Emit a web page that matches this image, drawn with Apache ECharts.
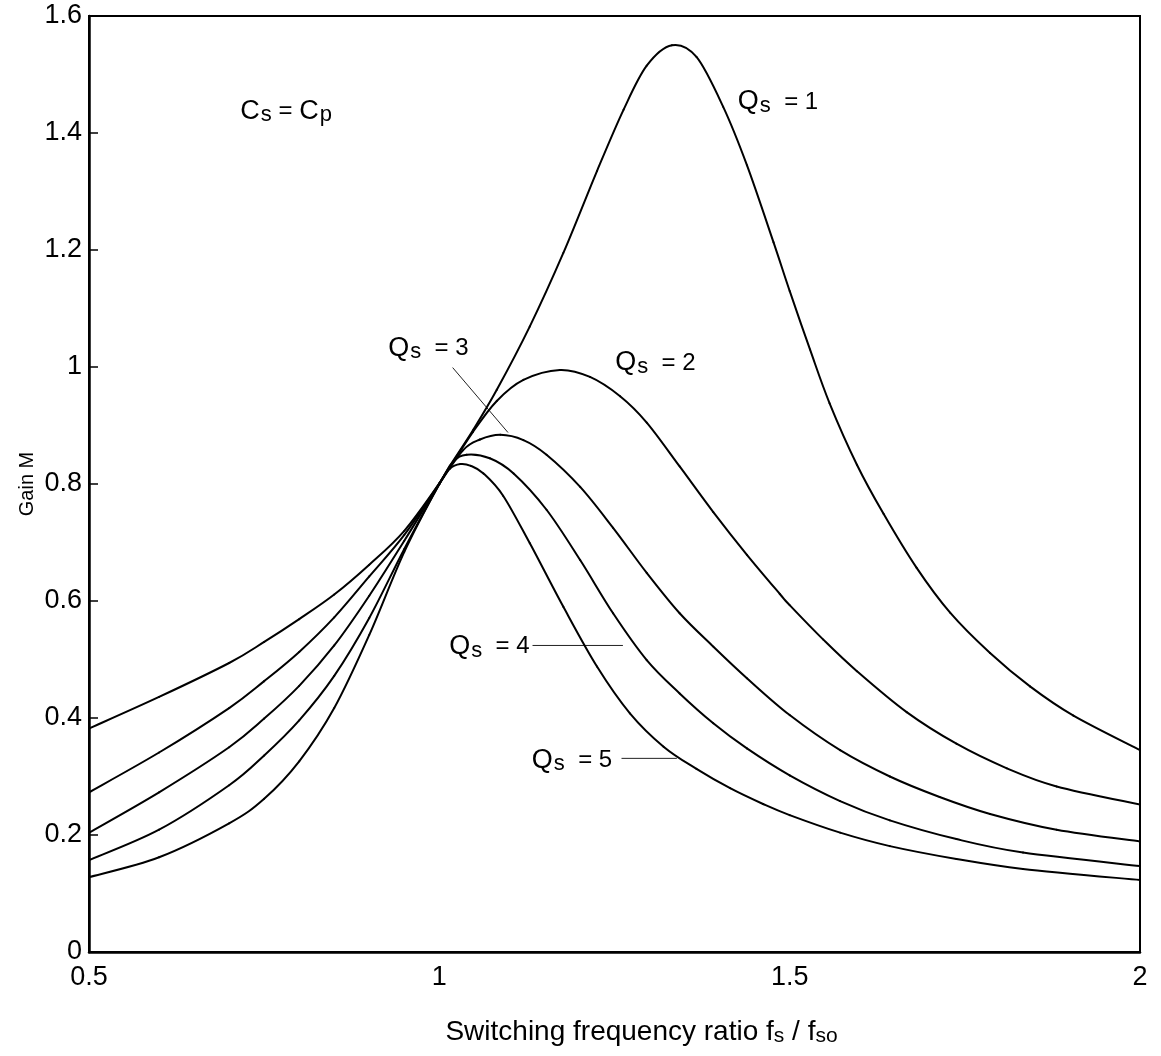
<!DOCTYPE html>
<html>
<head>
<meta charset="utf-8">
<script src="https://cdn.jsdelivr.net/npm/echarts@6/dist/echarts.min.js"></script>
<style>
html,body{margin:0;padding:0;background:#fff;}
#chart{width:1161px;height:1056px;}
</style>
</head>
<body>
<div id="chart"></div>
<script>
// Gain M vs switching frequency ratio, pairs [fs/fso, M]
const q1 = [[0.5,0.382],[0.6,0.436],[0.7,0.494],[0.75,0.530],[0.8,0.569],[0.85,0.611],[0.9,0.662],[0.95,0.720],[1.0,0.801],[1.015,0.831],[1.048,0.892],[1.082,0.961],[1.129,1.069],[1.177,1.195],[1.225,1.335],[1.263,1.440],[1.296,1.515],[1.332,1.550],[1.367,1.530],[1.405,1.445],[1.439,1.345],[1.477,1.213],[1.5,1.130],[1.529,1.030],[1.557,0.938],[1.596,0.833],[1.634,0.749],[1.681,0.657],[1.729,0.580],[1.786,0.511],[1.843,0.454],[1.905,0.404],[2.0,0.345]];
const q2 = [[0.5,0.273],[0.6,0.341],[0.7,0.417],[0.75,0.463],[0.8,0.513],[0.85,0.572],[0.9,0.642],[0.95,0.713],[1.0,0.801],[1.048,0.889],[1.082,0.942],[1.120,0.978],[1.172,0.995],[1.215,0.983],[1.258,0.950],[1.296,0.905],[1.343,0.830],[1.391,0.752],[1.439,0.679],[1.486,0.612],[1.5,0.593],[1.548,0.534],[1.596,0.480],[1.667,0.410],[1.738,0.356],[1.810,0.314],[1.881,0.283],[2.0,0.252]];
const q3 = [[0.5,0.204],[0.6,0.273],[0.7,0.350],[0.75,0.399],[0.8,0.455],[0.85,0.524],[0.9,0.609],[0.95,0.703],[1.0,0.800],[1.034,0.858],[1.058,0.876],[1.087,0.884],[1.120,0.875],[1.153,0.850],[1.201,0.795],[1.248,0.725],[1.296,0.648],[1.343,0.579],[1.391,0.522],[1.439,0.468],[1.5,0.405],[1.572,0.345],[1.643,0.300],[1.714,0.265],[1.786,0.236],[1.881,0.209],[2.0,0.189]];
const q4 = [[0.5,0.157],[0.6,0.209],[0.7,0.285],[0.75,0.336],[0.8,0.396],[0.85,0.472],[0.9,0.571],[0.95,0.689],[1.0,0.800],[1.020,0.838],[1.039,0.850],[1.072,0.844],[1.106,0.818],[1.153,0.756],[1.201,0.670],[1.248,0.579],[1.296,0.499],[1.343,0.442],[1.391,0.391],[1.439,0.348],[1.5,0.302],[1.572,0.258],[1.643,0.225],[1.738,0.193],[1.833,0.170],[2.0,0.147]];
const q5 = [[0.5,0.128],[0.6,0.162],[0.7,0.220],[0.75,0.262],[0.8,0.326],[0.85,0.417],[0.9,0.542],[0.95,0.684],[1.0,0.800],[1.015,0.826],[1.030,0.834],[1.045,0.831],[1.063,0.818],[1.091,0.780],[1.129,0.699],[1.177,0.590],[1.225,0.488],[1.272,0.408],[1.320,0.351],[1.367,0.313],[1.415,0.280],[1.462,0.253],[1.5,0.234],[1.572,0.204],[1.643,0.181],[1.738,0.159],[1.833,0.142],[2.0,0.123]];

const seriesNames = ['Qs = 1','Qs = 2','Qs = 3','Qs = 4','Qs = 5'];
const xTicks = [0.5, 1, 1.5, 2];
const yTicks = [0, 0.2, 0.4, 0.6, 0.8, 1, 1.2, 1.4, 1.6];

// annotation anchors (left edge of text, in data units)
const labelQ = ['1','2','3','4','5'];
const labelPos = [[1.426,1.453],[1.251,1.007],[0.927,1.032],[1.014,0.522],[1.132,0.328]];
const condPos = [0.716,1.437];
// leader lines
const leaderQ3 = [[1.019,0.999],[1.098,0.888]];
const leaderQ4 = [[1.133,0.524],[1.262,0.524]];
const leaderQ5 = [[1.260,0.331],[1.339,0.331]];

const FONT = '"Liberation Sans", Arial, Helvetica, sans-serif';
const rich = {
  b: {fontSize: 27, fontFamily: FONT, color: '#000'},
  s: {fontSize: 22, fontFamily: FONT, color: '#000', padding: [8,0,0,1]},
  e: {fontSize: 24, fontFamily: FONT, color: '#000'}
};

// smooth curve: each data point draws the Catmull-Rom segment to the next point,
// positions come from the axes via api.coord
function splineItem(params, api) {
  const n = params.dataInsideLength;
  const i = params.dataIndexInside;
  if (i >= n - 1) return null;
  const P = k => { k = Math.max(0, Math.min(n - 1, k)); return api.coord([api.value(0, k), api.value(1, k)]); };
  const p0 = P(i - 1), p1 = P(i), p2 = P(i + 1), p3 = P(i + 2);
  const c1 = [p1[0] + (p2[0] - p0[0]) / 6, p1[1] + (p2[1] - p0[1]) / 6];
  const c2 = [p2[0] - (p3[0] - p1[0]) / 6, p2[1] - (p3[1] - p1[1]) / 6];
  return {
    type: 'path',
    shape: {pathData: 'M' + p1[0] + ' ' + p1[1] + ' C' + c1[0] + ' ' + c1[1] + ' ' + c2[0] + ' ' + c2[1] + ' ' + p2[0] + ' ' + p2[1]},
    style: {stroke: '#000', lineWidth: 2, fill: null, lineCap: 'round'}
  };
}

const curveSeries = [q1,q2,q3,q4,q5].map((d,i)=>({
  name: seriesNames[i], type: 'custom', coordinateSystem: 'cartesian2d',
  data: d, encode: {x: 0, y: 1}, renderItem: splineItem, silent: true, z: 3, clip: true
}));

const leaderSeries = [leaderQ3, leaderQ4, leaderQ5].map((d,i)=>({
  type: 'line', data: d, showSymbol: false, silent: true,
  lineStyle: {color: '#222', width: 1}, z: 2
}));

const labelSeries = {
  type: 'scatter', symbolSize: 0, silent: true, z: 5,
  itemStyle: {opacity: 1},
  data: labelPos.map((p,i)=>({value: p, name: labelQ[i]})),
  label: {show: true, position: 'right', distance: 0, color: '#000', fontSize: 24, fontFamily: FONT,
    formatter: p => '{b|Q}{s|s}{e|  = ' + p.name + '}', rich: rich}
};
const condSeries = {
  type: 'scatter', symbolSize: 0, silent: true, z: 5,
  itemStyle: {opacity: 1},
  data: [condPos],
  label: {show: true, position: 'right', distance: 0, color: '#000', fontSize: 24, fontFamily: FONT,
    formatter: () => '{b|C}{s|s}{e| = }{b|C}{s|p}', rich: rich}
};

const chart = echarts.init(document.getElementById('chart'));
chart.setOption({
  animation: false,
  backgroundColor: '#fff',
  grid: {left: 89, right: 21, top: 16, bottom: 104, show: true, borderColor: '#000', borderWidth: 2},
  xAxis: {
    type: 'value', min: xTicks[0], max: xTicks[xTicks.length-1], interval: 0.5,
    name: '{n|Switching frequency ratio f}{ns|s}{n| / f}{ns|so}',
    nameLocation: 'middle', nameGap: 65, nameMoveOverlap: false,
    nameTextStyle: {padding: [0,0,0,54], rich: {n: {fontSize: 28, fontFamily: FONT, color: '#000'}, ns: {fontSize: 21, fontFamily: FONT, color: '#000', padding: [9,0,0,0]}}},
    axisLine: {lineStyle: {color: '#000', width: 2.5}},
    axisTick: {show: false},
    splitLine: {show: false},
    axisLabel: {fontSize: 27, fontFamily: FONT, color: '#000', margin: 12}
  },
  yAxis: {
    type: 'value', min: yTicks[0], max: yTicks[yTicks.length-1], interval: 0.2,
    name: 'Gain M', nameLocation: 'middle', nameGap: 52, nameMoveOverlap: false,
    nameTextStyle: {fontSize: 20, fontFamily: FONT, color: '#000'},
    axisLine: {lineStyle: {color: '#000', width: 2.5}},
    axisTick: {show: true, inside: true, length: 9, lineStyle: {color: '#000', width: 1.5}},
    splitLine: {show: false},
    axisLabel: {fontSize: 27, fontFamily: FONT, color: '#000', margin: 7}
  },
  series: [...curveSeries, ...leaderSeries, labelSeries, condSeries]
});
</script>
</body>
</html>
